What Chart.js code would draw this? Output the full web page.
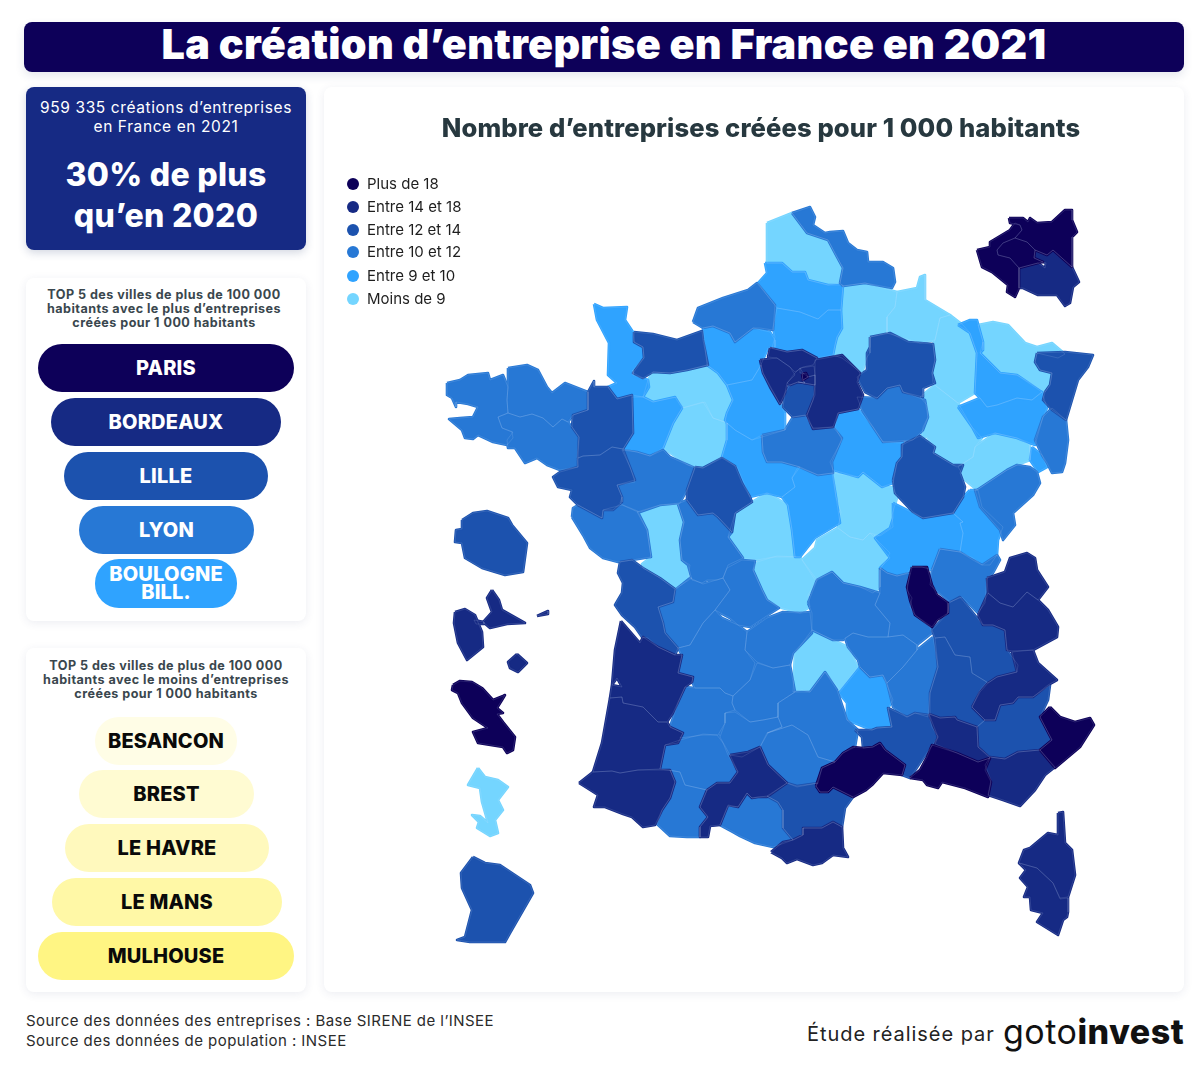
<!DOCTYPE html>
<html lang="fr"><head><meta charset="utf-8">
<script src="https://cdn.jsdelivr.net/npm/chart.js@4"></script>
<style>
html,body{margin:0;padding:0;background:#fff}
body{position:relative;width:1203px;height:1070px;overflow:hidden;font-family:Inter,"Open Sans",sans-serif;color:#111}
.abs{position:absolute}
.card{position:absolute;background:#fff;border-radius:8px;box-shadow:0 2px 10px rgba(40,60,110,.09)}
.t{position:absolute;white-space:nowrap;transform:translateX(-50%);text-align:center}
.pill{position:absolute;display:flex;align-items:center;justify-content:center;text-align:center;border-radius:24px;font-weight:800;font-size:20px;line-height:18px;letter-spacing:.2px;padding-bottom:1px;box-sizing:border-box}
.dot{position:absolute;width:12px;height:12px;border-radius:50%}
</style></head><body>
<div class="abs" style="left:24px;top:22px;width:1160px;height:50px;background:#0d0059;border-radius:8px;box-shadow:0 4px 10px rgba(40,60,110,.12)"></div>
<div class="t" id="title" style="left:604px;top:19px;color:#fff;font-weight:900;font-size:41.3px;line-height:50px;letter-spacing:.3px">La création d’entreprise en France en 2021</div>

<div class="abs" style="left:26px;top:87px;width:280px;height:163px;background:#162a84;border-radius:8px;box-shadow:0 3px 8px rgba(40,60,110,.2)"></div>
<div class="t" style="left:166px;top:98px;color:#fff;font-size:15.5px;line-height:19px;letter-spacing:.6px">959 335 créations d’entreprises<br>en France en 2021</div>
<div class="t" style="left:166px;top:154px;color:#fff;font-size:32px;line-height:41px;font-weight:800;letter-spacing:.3px">30% de plus<br>qu’en 2020</div>

<div class="card" style="left:26px;top:278px;width:280px;height:343px"></div>
<div class="t" style="left:164px;top:288px;font-size:12.6px;line-height:14px;font-weight:700;color:#3a474e;letter-spacing:.45px">TOP 5 des villes de plus de 100 000<br>habitants avec le plus d’entreprises<br>créées pour 1 000 habitants</div>
<div id="topPills"></div>

<div class="card" style="left:26px;top:648px;width:280px;height:344px"></div>
<div class="t" style="left:166px;top:659px;font-size:12.6px;line-height:14px;font-weight:700;color:#3a474e;letter-spacing:.45px">TOP 5 des villes de plus de 100 000<br>habitants avec le moins d’entreprises<br>créées pour 1 000 habitants</div>
<div id="lowPills"></div>

<div class="card" style="left:324px;top:87px;width:860px;height:905px"></div>
<canvas id="map" class="abs" style="left:324px;top:87px"></canvas>
<div class="t" style="left:761px;top:113px;font-size:25.6px;line-height:30px;font-weight:800;color:#27383f;letter-spacing:.1px">Nombre d’entreprises créées pour 1 000 habitants</div>
<div id="legend"></div>

<div class="abs" style="left:26px;top:1011px;font-size:15px;line-height:20px;color:#2b2b2b;letter-spacing:.45px;white-space:nowrap">Source des données des entreprises : Base SIRENE de l’INSEE<br>Source des données de population : INSEE</div>
<div class="abs" style="left:807px;top:1021px;font-size:20px;line-height:26px;color:#222;letter-spacing:.95px;white-space:nowrap">Étude réalisée par</div>
<div class="abs" style="left:1003px;top:1010px;font-size:34px;line-height:44px;color:#111;white-space:nowrap;letter-spacing:.5px">goto<b style="font-weight:800">invest</b></div>

<script>
// Tier labels and colours
const tierLabels=["Plus de 18","Entre 14 et 18","Entre 12 et 14","Entre 10 et 12","Entre 9 et 10","Moins de 9"];
const tierColors=["#0d0059","#162a84","#1c52ae","#2778d5","#2fa3ff","#74d5ff"];
const topCities=["PARIS","BORDEAUX","LILLE","LYON","BOULOGNE<br>BILL."];
const lowCities=["BESANCON","BREST","LE HAVRE","LE MANS","MULHOUSE"];
const lowColors=["#fffde6","#fffbd2","#fff9bd","#fff8a6","#fff583"];

// Department outlines, flat x,y lists in map units
const d29=[447,383,460,380,468,375,488,373,490,380,503,375,508,387,507,400,508,413,498,417,502,428,512,432,513,438,507,445,493,442,478,435,473,439,465,438,462,430,449,419,460,418,473,417,478,407,468,404,456,402,456,407,452,398,447,395];
const d22=[508,368,527,365,538,370,547,387,552,393,565,383,588,392,588,410,573,415,568,422,562,419,553,427,543,418,532,414,520,417,508,413,507,400,508,387];
const d56=[498,417,508,413,520,417,532,414,543,418,553,427,562,419,568,422,572,427,579,437,577,457,578,467,560,470,547,465,537,458,525,463,515,448,508,448,507,440,513,432,502,428];
const d35=[594,381,594,387,608,387,617,399,632,395,633,433,623,449,612,447,600,455,583,456,578,458,579,437,572,427,573,415,588,410,588,392];
const d44=[578,458,583,456,600,455,612,447,623,449,630,467,635,480,617,485,622,497,622,502,613,510,603,510,602,518,578,505,570,497,572,490,558,487,553,477,560,472,578,467];
const d50=[594,304,603,308,627,307,625,320,633,332,634,342,643,347,644,358,633,370,633,375,648,380,649,387,643,397,632,395,617,399,608,387,617,383,608,375,609,343,597,320];
const d14=[634,332,653,334,677,340,702,331,703,340,708,365,687,370,670,373,653,372,643,378,633,373,644,358,643,347,634,342];
const d61=[648,380,653,372,670,373,687,370,707,365,718,373,727,385,733,400,727,413,725,422,713,418,705,402,683,408,677,397,653,402,643,397];
const d53=[632,397,643,397,653,402,675,397,682,408,673,423,663,448,650,456,637,452,623,449,633,433];
const d72=[682,408,703,402,713,418,727,423,727,440,722,457,703,468,688,465,663,448,673,423];
const d27=[703,328,713,326,730,333,735,342,753,328,770,332,775,340,775,347,768,348,760,367,752,380,727,385,718,373,707,365];
const d76=[693,322,698,308,723,298,748,290,757,283,775,305,773,330,760,328,753,328,735,342,730,333,713,326,703,328];
const d62=[767,223,792,213,807,233,825,239,828,240,837,257,843,268,840,283,828,285,808,280,805,272,792,272,782,263,767,263,767,250];
const d59=[792,213,810,207,815,217,813,225,825,233,830,232,843,231,848,243,857,250,867,252,868,262,883,262,893,268,895,282,892,288,865,283,843,286,840,283,843,268,837,257,828,240,825,239,807,233];
const d80=[765,263,782,263,792,272,805,272,808,280,828,285,843,285,841,310,828,310,818,319,800,312,777,308,758,283,767,273];
const d60=[777,308,800,312,818,319,828,310,841,310,842,328,837,337,835,345,833,355,817,358,802,350,787,352,772,348,775,337,773,328];
const d02=[843,286,865,283,897,292,895,307,887,317,887,333,870,337,870,353,867,357,862,373,842,358,833,355,835,345,837,337,842,328,841,310];
const d08=[897,292,917,288,920,277,925,275,925,300,950,315,940,318,935,340,920,343,887,333,887,317,895,307];
const d51=[870,337,890,333,908,342,933,344,935,360,932,373,935,383,923,388,923,397,903,392,900,385,887,388,877,398,865,392,857,377,867,370,867,353,870,347];
const d55=[935,340,940,318,950,315,963,325,970,333,977,353,975,393,958,403,937,387,933,383,932,373,935,360,933,344];
const d54=[958,325,970,320,977,320,983,342,983,350,980,353,1000,373,1017,375,1042,392,1032,400,1017,398,997,405,987,407,980,398,975,393,977,353,970,333];
const d57=[978,325,993,322,1008,325,1025,343,1037,347,1052,343,1065,354,1058,358,1037,353,1035,362,1040,370,1052,373,1050,385,1045,392,1017,375,1000,373,980,353,983,342];
const d67=[1037,353,1065,352,1093,355,1088,367,1078,380,1072,400,1066,420,1052,410,1043,400,1045,392,1050,385,1052,373,1040,370,1035,362];
const d68=[1052,408,1066,420,1068,440,1065,463,1062,472,1052,473,1047,463,1042,455,1035,440,1043,417];
const d90=[1032,447,1042,455,1047,467,1038,472,1030,460];
const d88=[958,407,980,398,987,407,997,405,1017,398,1032,400,1042,392,1047,408,1043,417,1035,445,1017,438,995,433,978,438,972,427];
const d52=[920,397,935,385,958,403,972,427,982,438,975,447,973,457,957,467,953,465,933,453,935,447,927,437,922,437,923,427,928,417,927,405];
const d70=[958,467,973,457,975,447,995,433,1017,438,1030,445,1030,460,1017,465,1007,470,977,490,965,480,960,470];
const d25=[977,490,1007,470,1017,465,1030,467,1037,472,1040,483,1033,495,1013,513,1015,525,1003,540,1000,530,980,507,975,490];
const d39=[970,490,978,490,982,507,1003,527,998,540,997,555,990,565,982,565,973,558,960,552,963,533,960,523,963,522,953,513,963,497];
const d01=[940,549,960,552,973,560,982,565,997,555,1000,560,993,573,987,578,985,603,978,613,962,597,950,602,930,585,932,570];
const d71=[893,503,923,518,953,513,963,522,960,523,963,533,960,552,940,549,932,570,922,567,912,567,907,573,897,576,887,573,880,568,890,558,875,538,890,528,893,518];
const d21=[893,480,897,463,902,457,902,445,920,436,935,447,933,453,953,465,963,465,960,473,965,487,963,497,953,513,923,518,913,512,895,493];
const d10=[857,397,877,398,887,388,900,385,903,392,925,400,928,417,923,430,913,440,883,442,873,427,862,410];
const d89=[838,413,858,409,873,427,883,442,903,443,902,457,897,463,893,483,882,487,863,472,858,477,833,470,830,462,842,440,835,427];
const d45=[762,435,785,430,793,417,805,415,813,428,833,427,842,438,832,462,833,473,818,475,800,467,782,462,767,462,763,452];
const d28=[727,385,752,380,761,365,763,373,780,404,785,413,785,430,762,437,752,440,735,430,727,423,725,420,727,413,733,400];
const d41=[727,423,735,430,752,440,762,435,763,452,767,462,782,462,800,467,792,478,795,487,782,497,767,493,750,497,737,467,722,457,727,440];
const d37=[695,467,703,468,722,458,735,466,742,483,750,497,752,502,735,513,732,532,718,517,713,513,698,515,687,500,687,490];
const d49=[622,450,637,452,650,456,663,450,670,457,688,465,695,468,687,490,680,503,660,505,640,512,623,505,620,503,622,497,617,485,635,482,630,467];
const d85=[572,517,573,508,578,505,602,518,603,510,610,508,622,505,638,512,647,530,651,557,632,560,618,562,603,558,590,548,583,535];
const d79=[637,512,660,505,678,504,684,522,680,540,682,560,690,565,688,577,692,578,675,589,660,578,643,568,642,564,651,557,647,530];
const d86=[678,504,687,500,698,515,713,513,718,517,732,532,728,537,743,558,728,565,723,578,717,580,707,580,702,583,692,580,688,565,682,560,680,540,684,522];
const d36=[728,537,735,513,752,502,767,493,788,505,792,530,795,557,773,557,757,560,743,558];
const d18=[798,467,818,475,832,473,836,497,840,523,815,538,800,557,795,557,792,530,788,505,782,497,795,487,792,478];
const d58=[833,473,858,477,863,472,882,487,893,487,897,498,892,515,893,527,880,536,870,533,863,540,850,537,838,528,841,512,836,497];
const d03=[838,528,850,537,863,540,870,533,890,553,880,570,880,587,873,593,860,587,843,583,832,572,815,580,802,560,815,548,817,540];
const d23=[757,562,777,556,800,557,817,580,808,595,810,607,800,613,782,608,767,600,762,590,753,570];
const d87=[727,568,742,560,755,561,753,570,762,590,767,600,779,608,768,615,750,627,738,625,730,618,715,610,730,590,723,578];
const d16=[675,590,690,578,703,584,723,578,730,590,715,610,703,623,690,645,678,648,665,633,663,623,658,607,673,602];
const d17=[620,562,632,560,643,568,660,578,675,589,673,602,658,607,663,623,665,633,678,648,675,655,658,647,648,638,642,637,635,627,622,615,615,605,622,593,623,583,618,573];
const d33=[621,621,640,643,643,637,658,647,675,655,682,655,678,673,693,677,692,682,685,687,673,713,667,722,658,722,643,707,623,703,622,697,610,698,612,685,622,687,617,678,612,685,615,650];
const d40=[610,698,622,697,623,703,643,707,658,722,667,722,670,727,683,733,678,743,665,745,660,769,638,770,620,773,612,771,593,772,602,743];
const d64=[579,783,593,772,612,771,620,773,638,770,670,770,675,782,670,798,662,810,655,825,643,827,632,817,623,814,605,807,594,807,598,795,587,788];
const d65=[670,770,680,772,685,785,707,790,700,807,708,817,700,827,700,837,687,837,670,836,657,824,662,810,670,798,675,782];
const d32=[665,745,680,740,703,734,717,735,723,743,728,755,738,772,730,783,717,783,707,790,685,785,680,772,660,769];
const d47=[670,727,678,703,685,687,695,688,720,688,725,693,733,696,732,703,735,710,725,713,725,723,718,735,703,735,680,738,683,733];
const d24=[678,648,690,645,703,623,715,610,722,618,738,625,747,632,745,650,755,663,750,680,733,696,725,693,720,688,695,688,692,682,693,677,678,673,682,655];
const d19=[747,632,767,618,783,612,800,613,810,612,812,633,793,653,790,665,773,668,757,662,745,650];
const d46=[757,663,773,668,790,665,795,692,778,703,778,717,763,720,750,722,735,710,732,703,733,696,750,680];
const d82=[735,712,750,722,763,720,778,717,782,727,767,733,760,747,742,757,730,755,720,737,725,723,725,713];
const d31=[730,755,748,752,760,747,768,765,787,783,767,797,758,797,752,798,747,793,738,807,728,805,720,825,710,826,708,837,700,837,700,827,708,817,700,807,707,790,717,783,730,783,738,772];
const d81=[760,747,768,733,792,725,808,735,818,757,835,762,822,768,818,783,797,787,787,783,768,765];
const d12=[778,703,795,692,810,692,825,672,837,690,847,720,858,730,855,747,843,753,835,762,818,757,808,735,792,725,767,733,782,727,778,717];
const d15=[812,630,833,640,848,647,858,667,840,690,825,672,810,692,802,690,793,692,795,653];
const d48=[839,693,860,667,870,677,883,675,893,700,888,708,892,727,877,728,872,730,847,720,847,703];
const d43=[845,638,853,633,868,637,888,637,903,635,917,645,917,650,903,667,887,683,883,675,870,677,860,667,858,660,848,647];
const d63=[808,603,817,580,832,572,843,583,860,587,880,593,875,605,890,623,888,637,868,637,853,633,843,640,833,640,812,630,812,613];
const d42=[880,568,887,573,897,576,910,573,907,590,912,598,910,607,915,615,930,627,932,633,917,645,903,635,888,637,890,623,875,605,880,593];
const d69=[912,567,927,567,932,585,937,595,948,603,948,613,937,620,932,627,915,615,910,600,907,587];
const d07=[933,637,938,667,930,693,928,717,915,713,907,717,893,707,887,683,903,667,917,650];
const d26=[935,638,945,637,955,655,970,657,972,673,987,682,980,690,972,707,985,720,977,727,957,720,955,717,940,718,930,714,930,693,938,667];
const d38=[932,630,948,613,949,603,960,597,983,625,993,625,1005,630,1007,650,1018,665,1017,672,997,677,988,683,972,673,970,657,955,655,945,637,935,638];
const d74=[987,578,1005,572,1010,558,1027,553,1035,558,1037,570,1048,587,1038,600,1027,592,1013,607,1000,603,988,593];
const d73=[978,615,988,593,1000,603,1013,607,1027,592,1038,600,1048,610,1058,627,1057,637,1033,650,1012,651,1007,650,1005,630,993,625,983,625];
const d05=[972,707,980,692,988,683,997,677,1017,672,1012,652,1033,650,1038,663,1057,680,1048,685,1033,697,1018,697,1013,703,1000,705,995,720,985,720];
const d04=[977,727,985,720,995,720,1000,705,1013,703,1018,697,1033,697,1050,685,1048,700,1040,717,1052,740,1040,750,1018,752,1005,759,990,757,978,747];
const d06=[1050,707,1060,717,1075,722,1090,718,1094,725,1080,747,1055,768,1040,750,1052,740,1040,717];
const d83=[985,765,990,757,1005,759,1018,752,1040,750,1055,767,1045,775,1035,790,1020,806,1003,800,988,795,991,780];
const d13=[910,778,920,770,927,757,932,745,957,753,978,762,990,758,985,770,991,782,988,797,965,788,942,782,938,788,927,785,923,780];
const d84=[929,714,940,718,955,717,957,720,977,727,978,747,990,758,978,762,957,753,935,744,938,737];
const d30=[855,730,872,730,877,728,892,727,888,708,907,717,915,713,929,715,932,727,938,737,922,760,910,778,902,775,905,765,885,750,880,743,873,747,863,748,862,737];
const d34=[816,786,822,768,835,762,843,753,853,747,863,748,873,747,880,743,885,750,905,765,902,775,883,773,872,785,866,790,853,797,833,787,828,792,820,792];
const d11=[767,796,787,783,797,786,818,783,816,786,820,792,828,792,833,787,853,797,845,808,842,827,833,822,822,828,803,828,803,835,793,840,783,828,783,810,778,802];
const d66=[771,852,783,842,793,840,803,835,803,828,822,828,833,822,842,827,843,848,848,857,833,855,822,863,813,865,797,859,787,863,782,858];
const d09=[720,825,728,806,738,807,747,793,752,798,767,796,778,802,783,810,783,828,793,840,773,847,755,843,740,836,733,832];
const d78=[760,360,777,358,790,367,795,375,787,383,785,393,780,404,770,387,763,373];
const d95=[770,348,787,352,802,350,817,358,813,365,803,367,795,372,790,367,777,358,768,357];
const d77=[815,360,842,355,860,373,857,382,863,395,858,409,838,413,833,427,813,429,807,415,815,395,815,375];
const d91=[790,385,798,382,815,385,813,400,807,415,793,417,783,407,785,393];
const d93=[800,368,814,366,815,375,808,377,803,373,800,373];
const d92=[795,373,800,368,803,373,802,380,805,383,798,382,790,385,787,383];
const d94=[803,380,808,377,815,375,815,385,798,382,805,383];
const d75=[802,374,806,373,808,377,803,380];
const inset92=[977,250,990,247,990,242,1010,230,1015,223,1020,225,1022,230,1015,238,1003,243,997,250,998,255,1010,258,1019,268,1019,288,1015,297,1007,292,1008,285,992,272,982,267];
const inset93=[1009,218,1023,218,1028,222,1030,218,1037,223,1052,222,1065,210,1072,210,1072,220,1077,232,1072,237,1072,267,1053,250,1047,255,1035,250,1027,242,1015,238,1022,230,1020,225,1010,223];
const inset75=[1015,238,1027,242,1035,250,1034,258,1043,262,1038,263,1019,268,1010,258,998,255,997,250,1003,243];
const inset94=[1035,250,1047,255,1053,250,1072,267,1079,282,1073,287,1070,303,1065,306,1057,295,1038,295,1023,288,1019,288,1019,268,1038,263,1045,268,1046,263,1043,262,1034,258];
const reunion=[462,520,473,513,487,511,508,518,512,525,527,543,523,572,505,575,482,568,465,558,462,543,455,542,456,530,462,529];
const guadeloupeW=[455,612,465,609,475,615,482,632,483,647,467,660,458,643,454,623];
const guadeloupeE=[492,590,499,600,502,610,525,623,507,624,490,628,483,622,492,612,487,598];
const guadeloupeLink=[474,620,484,622,484,624,476,624];
const desirade=[537,616,548,611,548,614];
const marieGalante=[517,654,527,663,518,672,510,668,508,662];
const martinique=[453,685,460,681,472,682,482,688,493,700,503,696,505,695,502,700,497,708,503,713,497,714,503,722,515,737,513,750,507,753,503,747,478,743,473,732,488,728,473,718,462,703,458,693,452,690];
const mayotte=[478,768,485,777,498,780,508,787,498,800,503,810,495,820,498,833,490,836,477,828,479,822,472,815,480,816,488,823,482,802,480,788,468,785];
const guyane=[473,857,485,863,500,865,530,885,533,893,510,933,505,942,470,942,457,940,465,937,472,910,462,888,461,873];
const corse2B=[1058,813,1063,812,1065,843,1072,850,1075,875,1068,897,1060,898,1053,883,1037,868,1019,863,1024,850,1030,848,1048,833,1058,835];
const corse2A=[1019,863,1037,868,1053,883,1060,899,1068,898,1068,912,1067,917,1063,920,1058,935,1037,922,1043,913,1031,910,1030,897,1024,897,1028,887,1020,878,1026,870];

// Which outlines belong to which legend class
const tier0=[d69,d06,d13,d34,d75,martinique,inset92,inset93,inset75];
const tier1=[inset94,d78,d95,d77,d93,d92,d94,d33,d40,d64,d31,d66,d73,d74,d05,d84,d83,guadeloupeW,guadeloupeE,guadeloupeLink,desirade,marieGalante,corse2B,corse2A];
const tier2=[d14,d35,d44,d51,d67,d21,d37,d17,d91,d11,d30,d26,d38,d04,reunion,guyane];
const tier3=[d29,d22,d56,d76,d59,d10,d45,d68,d25,d49,d85,d86,d87,d16,d24,d19,d46,d82,d47,d32,d65,d09,d81,d12,d63,d42,d43,d07,d01];
const tier4=[d50,d27,d80,d60,d53,d28,d41,d18,d89,d54,d88,d90,d71,d39,d48];
const tier5=[d62,d02,d08,d55,d57,d52,d70,d61,d72,d79,d36,d58,d03,d23,d15,mayotte];
const tiers=[tier0,tier1,tier2,tier3,tier4,tier5];

// HTML parts
const pillsTop=document.getElementById('topPills');
const topBoxes=[[38,344,256,48],[51,398,230,48],[64,452,204,48],[79,506,175,48],[95,559,142,49]];
topCities.forEach((c,i)=>{const b=topBoxes[i],e=document.createElement('div');e.className='pill';
 e.style.cssText=`left:${b[0]}px;top:${b[1]}px;width:${b[2]}px;height:${b[3]}px;background:${tierColors[i]};color:#fff`;e.innerHTML=c;pillsTop.appendChild(e);});
const pillsLow=document.getElementById('lowPills');
const lowBoxes=[[95,717,142,48],[79,770,175,48],[65,824,204,48],[52,878,230,48],[38,932,256,48]];
lowCities.forEach((c,i)=>{const b=lowBoxes[i],e=document.createElement('div');e.className='pill';
 e.style.cssText=`left:${b[0]}px;top:${b[1]}px;width:${b[2]}px;height:${b[3]}px;background:${lowColors[i]};color:#0a0a0a`;e.textContent=c;pillsLow.appendChild(e);});
const lg=document.getElementById('legend');
const legendY=[184,207,230,252,276,299];
tierLabels.forEach((l,i)=>{const d=document.createElement('div');d.className='dot';d.style.cssText=`left:347px;top:${legendY[i]-6}px;background:${tierColors[i]}`;lg.appendChild(d);
 const t=document.createElement('div');t.className='abs';t.style.cssText=`left:367px;top:${legendY[i]-10}px;font-size:15px;line-height:20px;color:#1e1e1e;white-space:nowrap`;t.textContent=l;lg.appendChild(t);});

// Map: first pass fills each department and closes seams in its own colour, second pass adds the faint borders
const toPoints=a=>{const p=[];for(let i=0;i<a.length;i+=2)p.push({x:a[i],y:a[i+1]});p.push({x:a[0],y:a[1]});return p;};
const datasets=[];
const base={showLine:true,tension:0,borderJoinStyle:'round',pointRadius:0,pointHoverRadius:0,clip:false};
tiers.forEach((tier,i)=>tier.forEach(poly=>datasets.push({...base,label:tierLabels[i],data:toPoints(poly),fill:'shape',
 backgroundColor:tierColors[i],borderColor:tierColors[i],borderWidth:2.6,order:2+i})));
tiers.forEach((tier,i)=>tier.forEach(poly=>datasets.push({...base,label:tierLabels[i],data:toPoints(poly),fill:false,
 borderColor:'rgba(215,232,255,.26)',borderWidth:.5,order:0})));
const cv=document.getElementById('map');cv.width=860;cv.height=905;cv.style.width='860px';cv.style.height='905px';
new Chart(cv,{type:'scatter',data:{datasets},options:{responsive:false,animation:false,events:[],layout:{padding:0},
 plugins:{legend:{display:false},tooltip:{enabled:false},title:{display:false}},
 scales:{x:{type:'linear',display:false,min:324,max:1184},y:{type:'linear',display:false,reverse:true,min:87,max:992}}}});
</script>
</body></html>
